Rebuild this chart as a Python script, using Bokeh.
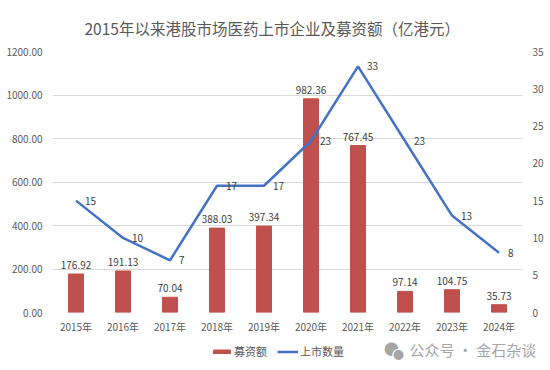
from bokeh.plotting import figure
from bokeh.models import (ColumnDataSource, Range1d, LinearAxis, FixedTicker,
                          NumeralTickFormatter, Legend, LegendItem, FactorRange,
                          Title, Label)
from bokeh.layouts import column
from bokeh.core.properties import value
from bokeh.embed import file_html
from bokeh.resources import INLINE

years = ["2015年", "2016年", "2017年", "2018年", "2019年",
         "2020年", "2021年", "2022年", "2023年", "2024年"]
funds = [176.92, 191.13, 70.04, 388.03, 397.34, 982.36, 767.45, 97.14, 104.75, 35.73]
counts = [15, 10, 7, 17, 17, 23, 33, 23, 13, 8]
left_ticks = [0, 200, 400, 600, 800, 1000, 1200]
right_ticks = [0, 5, 10, 15, 20, 25, 30, 35]

FONT = "Noto Sans CJK SC"
BAR = "#C0504D"
LINE = "#4472C4"
TICK = "#595959"
LAB = "#404040"
GRID = "#D9D9D9"
WM = "#A6A6A6"

src = ColumnDataSource(dict(
    x=years, funds=funds, counts=counts,
    flab=[f"{v:.2f}" for v in funds],
    clab=[str(c) for c in counts],
))
xr = FactorRange(*years, range_padding=0)

# ---------------- main chart ----------------
p = figure(width=550, height=338, x_range=xr,
           y_range=Range1d(0, 1200), output_backend="svg", toolbar_location=None,
           min_border_left=52, min_border_right=28, min_border_top=51,
           min_border_bottom=26)
p.frame_align = False
p.outline_line_color = None
p.extra_y_ranges = {"cnt": Range1d(0, 35)}

p.title = Title(text="2015年以来港股市场医药上市企业及募资额（亿港元）",
                align="left", offset=32, vertical_align="middle", standoff=24,
                text_font=FONT, text_font_size="15.5px", text_font_style="normal",
                text_color=TICK)

p.vbar(x="x", top="funds", width=0.32, source=src, fill_color=BAR, line_color=BAR)
p.line(x="x", y="counts", source=src, y_range_name="cnt", line_color=LINE,
       line_width=2.5)

p.text(x="x", y="funds", text="flab", source=src, text_align="center",
       text_baseline="bottom", y_offset=-5, text_font=value(FONT),
       text_font_size="10px", text_color=LAB)
p.text(x="x", y="counts", text="clab", source=src, y_range_name="cnt",
       text_align="left", text_baseline="middle", x_offset=9,
       text_font=value(FONT), text_font_size="10px", text_color=LAB)

p.yaxis.ticker = FixedTicker(ticks=left_ticks)
p.yaxis.formatter = NumeralTickFormatter(format="0.00")
ax_r = LinearAxis(y_range_name="cnt", ticker=FixedTicker(ticks=right_ticks))
p.add_layout(ax_r, "right")
for ax in [p.yaxis[0], ax_r, p.xaxis[0]]:
    ax.axis_line_color = None
    ax.major_tick_line_color = None
    ax.minor_tick_line_color = None
    ax.major_tick_out = 0
    ax.major_label_text_font = FONT
    ax.major_label_text_font_size = "10px"
    ax.major_label_text_color = TICK
p.yaxis[0].major_label_standoff = 10
ax_r.major_label_standoff = 10
p.xaxis.major_label_standoff = 6
p.xgrid.grid_line_color = None
p.ygrid.grid_line_color = GRID
p.ygrid.grid_line_width = 1

# ---------------- legend strip ----------------
q = figure(width=550, height=32, x_range=xr, y_range=Range1d(0, 1200),
           output_backend="svg", toolbar_location=None,
           x_axis_location=None, y_axis_location=None,
           min_border=0, min_border_left=0, min_border_right=0,
           min_border_top=0, min_border_bottom=0)
q.frame_align = False
q.extra_y_ranges = {"cnt": Range1d(0, 35)}
q.outline_line_color = None
q.xgrid.grid_line_color = None
q.ygrid.grid_line_color = None
# legend proxies (hidden; same data as the chart)
lb = q.vbar(x="x", top="funds", width=0.32, source=src, fill_color=BAR,
            line_color=BAR, visible=False)
ll = q.line(x="x", y="counts", source=src, y_range_name="cnt", line_color=LINE,
            line_width=2.5, visible=False)

legend = Legend(items=[LegendItem(label="募资额", renderers=[lb]),
                       LegendItem(label="上市数量", renderers=[ll])],
                location=(211, 11), orientation="horizontal",
                glyph_width=21, glyph_height=5, label_height=14, label_width=10,
                label_standoff=2, spacing=10,
                padding=0, margin=0, border_line_color=None,
                background_fill_alpha=0, inactive_fill_alpha=0,
                label_text_font=FONT, label_text_font_size="11px",
                label_text_color=TICK)
q.add_layout(legend, "center")

# watermark
for (xx, yy, sz, col) in [(391, 22, "15px", WM), (398, 17, "14px", "white"),
                          (398, 17, "11px", WM)]:
    q.add_layout(Label(x=xx, y=yy, x_units="screen", y_units="screen", text="●",
                       text_align="center", text_baseline="middle", text_font=FONT,
                       text_font_size=sz, text_color=col))
q.add_layout(Label(x=409, y=21, x_units="screen", y_units="screen",
                   text="公众号 · 金石杂谈", text_align="left",
                   text_baseline="middle", text_font=FONT,
                   text_font_size="15px", text_color=WM))

open("out.html", "w").write(file_html(column(p, q, spacing=0), INLINE))
